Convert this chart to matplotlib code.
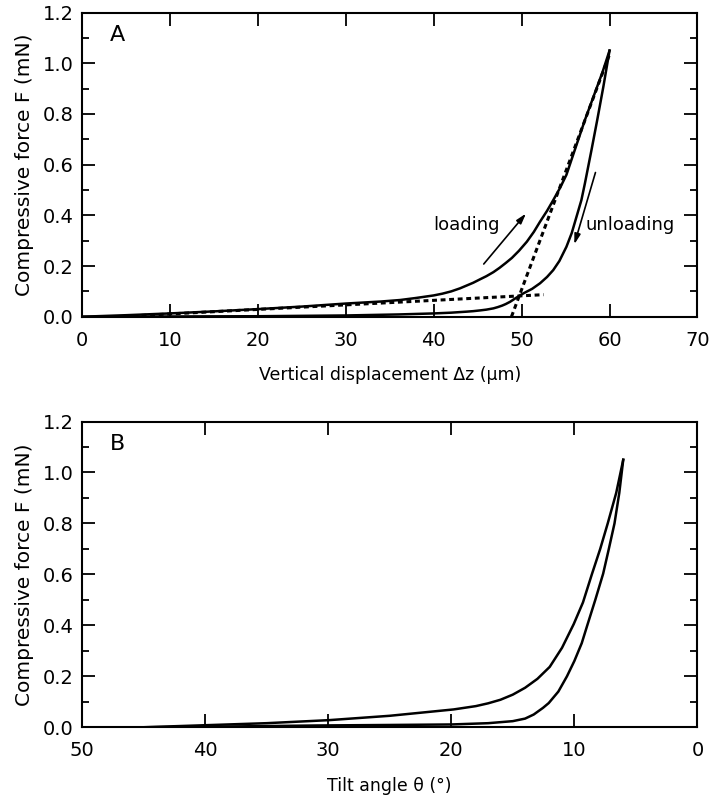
import matplotlib
matplotlib.use("Agg")
import matplotlib.pyplot as plt
from matplotlib.ticker import MultipleLocator

# Panel A: force vs vertical displacement
dz_load = [0, 5, 10, 15, 20, 25, 30, 34, 36.2, 38, 40, 41, 42, 43, 43.75, 44.5,
           45.3, 46, 46.8, 47.5, 48.2, 48.9, 49.7, 50.6, 51.4, 52.1, 52.9, 53.6,
           54.4, 55.1, 56.05, 57.2, 58.3, 59.2, 60]
f_load = [0.0, 0.006, 0.013, 0.021, 0.030, 0.040, 0.052, 0.060, 0.066, 0.074,
          0.084, 0.091, 0.100, 0.112, 0.123, 0.134, 0.148, 0.160, 0.176, 0.193,
          0.212, 0.232, 0.260, 0.296, 0.335, 0.375, 0.418, 0.460, 0.510, 0.560,
          0.658, 0.776, 0.880, 0.965, 1.05]

dz_unload = [0, 10, 20, 30, 36, 40, 42, 43.75, 44.5, 45.3, 46, 46.8, 47.3, 47.8,
             48.2, 48.7, 49.4, 50.2, 51.2, 52.1, 52.9, 53.6, 54.3, 55.1, 55.7,
             56.25, 56.8, 57.2, 57.95, 58.6, 59.3, 60]
f_unload = [0.0, 0.001, 0.002, 0.005, 0.009, 0.013, 0.016, 0.020, 0.022, 0.025,
            0.028, 0.033, 0.038, 0.044, 0.050, 0.059, 0.075, 0.092, 0.110, 0.132,
            0.157, 0.184, 0.220, 0.276, 0.330, 0.395, 0.460, 0.526, 0.658, 0.776,
            0.908, 1.05]

# dashed guide lines
low_fit_x = [0, 52.5]
low_fit_y = [-0.007, 0.087]
high_fit_x = [48.85, 60]
high_fit_y = [0.0, 1.035]

# Panel B: force vs tilt angle
th_load = [45, 40, 35, 29.9, 25, 19.8, 18, 17, 16, 15, 14, 13, 12, 11, 10.05,
           9.3, 8.58, 7.9, 7.29, 6.6, 6.03]
fb_load = [0.0, 0.008, 0.016, 0.028, 0.045, 0.070, 0.083, 0.094, 0.108, 0.128,
           0.155, 0.190, 0.237, 0.312, 0.405, 0.490, 0.600, 0.700, 0.800, 0.920,
           1.05]

th_unload = [45, 40, 30.9, 25, 20, 17, 15, 14, 13.3, 12.55, 12.08, 11.3, 10.6,
             10.0, 9.4, 8.95, 8.3, 7.66, 7.2, 6.74, 6.35, 6.03]
fb_unload = [0.0, 0.002, 0.007, 0.009, 0.011, 0.016, 0.024, 0.034, 0.050, 0.076,
             0.095, 0.140, 0.200, 0.260, 0.330, 0.400, 0.500, 0.603, 0.700,
             0.800, 0.920, 1.05]

ylabel = "Compressive force F (mN)"

fig = plt.figure(figsize=(7.11, 7.97), dpi=100)
axA = fig.add_axes([0.115, 0.6026, 0.866, 0.3816])
axB = fig.add_axes([0.115, 0.0875, 0.866, 0.3836])


def style_axes(ax):
    for s in ax.spines.values():
        s.set_linewidth(1.5)
    ax.tick_params(which="both", direction="in", top=True, right=True,
                   width=1.3, labelsize=14)
    ax.tick_params(which="major", length=9.5)
    ax.tick_params(which="minor", length=5)
    ax.tick_params(axis="x", pad=10)
    ax.tick_params(axis="y", pad=6)
    ax.set_ylim(0, 1.2)
    ax.yaxis.set_major_locator(MultipleLocator(0.2))
    ax.yaxis.set_minor_locator(MultipleLocator(0.1))
    ax.yaxis.set_major_formatter(plt.FormatStrFormatter("%.1f"))
    ax.set_ylabel(ylabel, fontsize=14.5, labelpad=6)


lw = 1.8
dash = (0, (1.6, 1.2))

# --- panel A
style_axes(axA)
axA.plot(dz_load, f_load, color="black", lw=lw)
axA.plot(dz_unload, f_unload, color="black", lw=lw)
axA.plot(low_fit_x, low_fit_y, color="black", lw=2.2, ls=dash)
axA.plot(high_fit_x, high_fit_y, color="black", lw=2.2, ls=dash)
axA.set_xlim(0, 70)
axA.xaxis.set_major_locator(MultipleLocator(10))
axA.set_xlabel("Vertical displacement \u0394z (\u03bcm)", fontsize=12.5, labelpad=12)
axA.text(0.045, 0.925, "A", transform=axA.transAxes, fontsize=16,
         ha="left", va="center")

arrow = dict(arrowstyle="-|>,head_length=0.6,head_width=0.18",
             color="black", lw=1.2, shrinkA=0, shrinkB=0)
axA.annotate("", xy=(50.5, 0.407), xytext=(45.7, 0.208), arrowprops=arrow)
axA.annotate("", xy=(56.0, 0.286), xytext=(58.4, 0.569), arrowprops=arrow)
axA.text(43.7, 0.36, "loading", fontsize=13, ha="center", va="center")
axA.text(62.3, 0.36, "unloading", fontsize=13, ha="center", va="center")

# --- panel B
style_axes(axB)
axB.plot(th_load, fb_load, color="black", lw=lw)
axB.plot(th_unload, fb_unload, color="black", lw=lw)
axB.set_xlim(50, 0)
axB.xaxis.set_major_locator(MultipleLocator(10))
axB.set_xlabel("Tilt angle \u03b8 (\u00b0)", fontsize=12.5, labelpad=12)
axB.text(0.045, 0.925, "B", transform=axB.transAxes, fontsize=16,
         ha="left", va="center")

fig.savefig("out.png", dpi=100)
